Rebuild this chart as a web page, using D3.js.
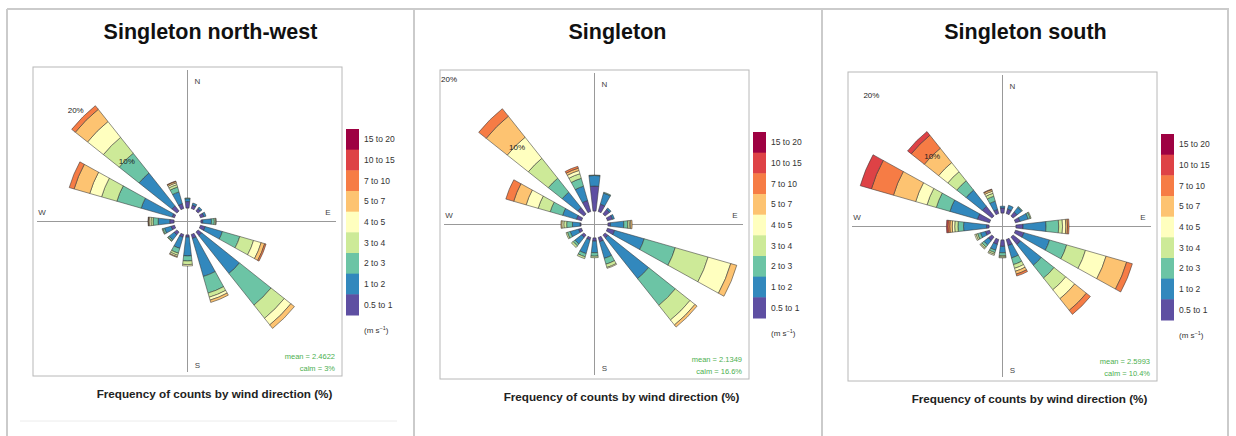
<!DOCTYPE html>
<html>
<head>
<meta charset="utf-8">
<script src="https://cdn.jsdelivr.net/npm/d3@7"></script>
<style>
	body { margin: 0; background: #fff; }
	svg { display: block; font-family: "Liberation Sans", Arial, sans-serif; }
</style>
</head>
<body>
<svg id="chart" width="1236" height="436"></svg>
<script>
// Wind directions (degrees) and speed bins (m/s), inner to outer
const directions = [0, 22.5, 45, 67.5, 90, 112.5, 135, 157.5, 180, 202.5, 225, 247.5, 270, 292.5, 315, 337.5]
const speedBins = ["0.5 to 1", "1 to 2", "2 to 3", "3 to 4", "4 to 5", "5 to 7", "7 to 10", "10 to 15", "15 to 20"]
const siteTitles = ["Singleton north-west", "Singleton", "Singleton south"]
const meanSpeeds = ["2.4622", "2.1349", "2.5993"]
const calmPercents = ["3%", "16.6%", "10.4%"]
const gridValues = [10, 20]

// Frequency (%) per direction, one value per speed bin
const northWestFreq = [
	[0.9, 0.4, 0.1],
	[0.5, 0.3],
	[0.45, 0.25],
	[0.5, 0.3],
	[0.25, 1.2, 0.4, 0.2, 0.05],
	[0.68, 2.48, 2.5, 1.98, 1.09, 0.51, 0.2],
	[0.66, 6.67, 5.57, 2.34, 1.16, 0.63],
	[0.58, 5.47, 2.39, 0.59, 0.42, 0.33],
	[0.3, 2.6, 0.7, 0.5, 0.2],
	[0.4, 1.6, 0.7, 0.3, 0.2, 0.1],
	[0.5, 0.9, 0.2, 0.07],
	[0.5, 0.95, 0.25, 0.1],
	[0.6, 1.6, 0.7, 0.3, 0.25, 0.1, 0.05],
	[0.34, 4.46, 3.5, 2.2, 1.7, 2.25, 0.7],
	[0.9, 5.8, 3.5, 2.8, 2.8, 2.16, 0.64],
	[0.7, 1.7, 0.7, 0.35, 0.25, 0.2, 0.07]
]
const singletonFreq = [
	[2.6, 1.1, 0.05],
	[0.8, 1.2, 0.1],
	[0.6, 0.2],
	[0.55, 0.2],
	[0.26, 1.39, 0.41, 0.18, 0.14, 0.14],
	[0.78, 3.2, 3.36, 3.56, 2.45, 0.65],
	[0.4, 5.4, 3.55, 1.95, 0.66, 0.28],
	[0.47, 1.8, 0.63, 0.35, 0.1],
	[0.33, 1.21, 0.36, 0.16],
	[0.26, 1.49, 0.35, 0.2],
	[0.33, 0.87, 0.25, 0.22],
	[0.33, 0.9, 0.3, 0.15],
	[0.1, 0.8, 0.6, 0.3, 0.2, 0.1],
	[0.55, 1.5, 1.35, 1.3, 1.3, 1.35, 0.85],
	[0.85, 2.05, 1.85, 2.65, 2.8, 2.8, 1.0],
	[1.2, 1.55, 0.85, 0.5, 0.35, 0.25, 0.2]
]
const southFreq = [
	[0.6, 0.2],
	[0.55, 0.45],
	[0.6, 0.7, 0.1],
	[0.55, 1.0, 0.25, 0.1],
	[0.83, 2.67, 1.47, 0.45, 0.38, 0.2, 0.18],
	[1.02, 3.11, 2.07, 2.28, 2.49, 2.49, 0.69],
	[1.13, 3.07, 1.9, 1.74, 1.33, 1.73, 0.6],
	[0.75, 1.49, 0.81, 0.45, 0.35, 0.35, 0.23],
	[0.75, 0.75, 0.35, 0.15, 0.09],
	[0.6, 0.7, 0.3, 0.2, 0.14],
	[0.55, 0.65, 0.3, 0.2, 0.1],
	[0.5, 0.6, 0.35, 0.2, 0.15],
	[0.29, 2.68, 0.65, 0.38, 0.28, 0.29, 0.23, 0.16],
	[1.47, 3.33, 1.65, 1.12, 1.37, 2.69, 2.67, 1.35],
	[1.44, 2.41, 1.38, 1.34, 1.36, 2.13, 1.94, 0.55],
	[0.5, 1.0, 0.6, 0.35, 0.25, 0.2, 0.07]
]
const siteFreqs = [northWestFreq, singletonFreq, southFreq]

const binColours = ["#5E4FA2", "#3288BD", "#6CC4A5", "#CDEA98", "#FFFFBF", "#FDC371", "#F67C45", "#DE4246", "#9E0142"]

// layout
const cardLeft = [7, 414, 822]
const cardWidth = 407
const boxTop = [67, 70, 72]
const boxSize = 309
const petalMax = 148
const petalWidth = 13

const svg = d3.select("#chart")

// card borders
svg.append("path")
	.attr("d", `M7,9H1229M7,9V436M414,9V436M822,9V436M1228,9V436`)
	.attr("fill", "none")
	.attr("stroke", "#cbcbcb")
	.attr("stroke-width", 2)
svg.append("line")
	.attr("x1", 20).attr("x2", 397)
	.attr("y1", 421).attr("y2", 421)
	.attr("stroke", "#ececec")

const colour = d3.scaleOrdinal().domain(d3.range(speedBins.length)).range(binColours)
const angle = d3.scaleLinear().domain([0, 360]).range([0, 2 * Math.PI])
const stack = d3.stack()
	.keys(d3.range(speedBins.length))
	.value((d, k) => d.values[k] || 0)

siteFreqs.forEach((freq, i) => {
	let left = cardLeft[i]
	let boxX = left + 26
	let boxY = boxTop[i]
	let cx = boxX + boxSize / 2
	let cy = boxY + boxSize / 2
	let g = svg.append("g")

	g.append("text")
		.attr("x", left + cardWidth / 2)
		.attr("y", 39)
		.attr("text-anchor", "middle")
		.style("font-size", "21.5px")
		.style("font-weight", "bold")
		.attr("fill", "#111")
		.text(siteTitles[i])

	g.append("rect")
		.attr("x", boxX).attr("y", boxY)
		.attr("width", boxSize).attr("height", boxSize)
		.attr("fill", "#fff")
		.attr("stroke", "#b8b8b8")

	// radial scale, openair style: 10% offset for the calm circle
	let rows = freq.map((values, j) => ({dir: directions[j], values: values}))
	let maxTotal = d3.max(rows, d => d3.sum(d.values))
	let r = d3.scaleLinear().domain([-0.1 * maxTotal, maxTotal]).range([0, petalMax])

	let rose = g.append("g").attr("transform", `translate(${cx},${cy})`)

	rose.append("line")
		.attr("x1", 0).attr("x2", 0)
		.attr("y1", -boxSize / 2 + 3).attr("y2", boxSize / 2 - 4)
		.attr("stroke", "#999")
	rose.append("line")
		.attr("x1", -boxSize / 2 + 4).attr("x2", boxSize / 2 - 6)
		.attr("y1", 0).attr("y2", 0)
		.attr("stroke", "#999")

	let arc = d3.arc()
		.innerRadius(d => r(d[0]))
		.outerRadius(d => r(d[1]))
		.startAngle(d => angle(d.data.dir - petalWidth / 2))
		.endAngle(d => angle(d.data.dir + petalWidth / 2))

	let series = stack(rows)
	rose.selectAll("g.bin")
		.data(series)
		.join("g")
		.attr("class", "bin")
		.attr("fill", s => colour(s.key))
		.selectAll("path")
		.data(s => s.filter(d => d[1] > d[0]))
		.join("path")
		.attr("d", arc)
		.attr("stroke", "#333")
		.attr("stroke-width", 0.6)
		.attr("stroke-opacity", 0.9)

	// percentage labels along the NW diagonal
	rose.selectAll("text.pct")
		.data(gridValues)
		.join("text")
		.attr("class", "pct")
		.attr("x", v => r(v) * Math.sin(angle(315)))
		.attr("y", v => -r(v) * Math.cos(angle(315)))
		.attr("dy", "0.35em")
		.attr("text-anchor", "middle")
		.style("font-size", "8px")
		.attr("fill", "#222")
		.text(v => `${v}%`)

	let half = boxSize / 2
	let compass = [
		{t: "N", x: 10, y: -half + 17},
		{t: "S", x: 10, y: half - 8},
		{t: "W", x: -half + 9, y: -7},
		{t: "E", x: half - 14, y: -7}
	]
	rose.selectAll("text.compass")
		.data(compass)
		.join("text")
		.attr("class", "compass")
		.attr("x", d => d.x)
		.attr("y", d => d.y)
		.attr("text-anchor", "middle")
		.style("font-size", "8px")
		.attr("fill", "#444")
		.text(d => d.t)

	// mean and calm notes
	g.selectAll("text.note")
		.data([`mean = ${meanSpeeds[i]}`, `calm = ${calmPercents[i]}`])
		.join("text")
		.attr("class", "note")
		.attr("x", boxX + boxSize - 7)
		.attr("y", (d, k) => boxY + boxSize - 17 + k * 12)
		.attr("text-anchor", "end")
		.style("font-size", "7.5px")
		.attr("fill", "#4caf50")
		.text(d => d)

	// colour key
	let barX = boxX + boxSize + 4
	let barTop = boxY + 62
	let y = d3.scaleBand()
		.domain(d3.range(speedBins.length).reverse())
		.range([barTop, barTop + 186])
	let key = g.append("g")
	key.selectAll("rect")
		.data(y.domain())
		.join("rect")
		.attr("x", barX)
		.attr("y", k => y(k))
		.attr("width", 13)
		.attr("height", y.bandwidth() + 0.5)
		.attr("fill", k => colour(k))
	key.selectAll("text")
		.data(y.domain())
		.join("text")
		.attr("x", barX + 18)
		.attr("y", k => y(k) + y.bandwidth() / 2)
		.attr("dy", "0.35em")
		.style("font-size", "8.5px")
		.attr("fill", "#333")
		.text(k => speedBins[k])
	let unit = key.append("text")
		.attr("x", barX + 18)
		.attr("y", barTop + 204)
		.style("font-size", "8px")
		.attr("fill", "#333")
	unit.append("tspan").text("(m s")
	unit.append("tspan").attr("dy", -3).style("font-size", "5.5px").text("\u22121")
	unit.append("tspan").attr("dy", 3).text(")")

	g.append("text")
		.attr("x", left + cardWidth / 2 + 4)
		.attr("y", boxY + boxSize + 22)
		.attr("text-anchor", "middle")
		.style("font-size", "11.7px")
		.style("font-weight", "bold")
		.attr("fill", "#222")
		.text("Frequency of counts by wind direction (%)")
})
</script>
</body>
</html>
